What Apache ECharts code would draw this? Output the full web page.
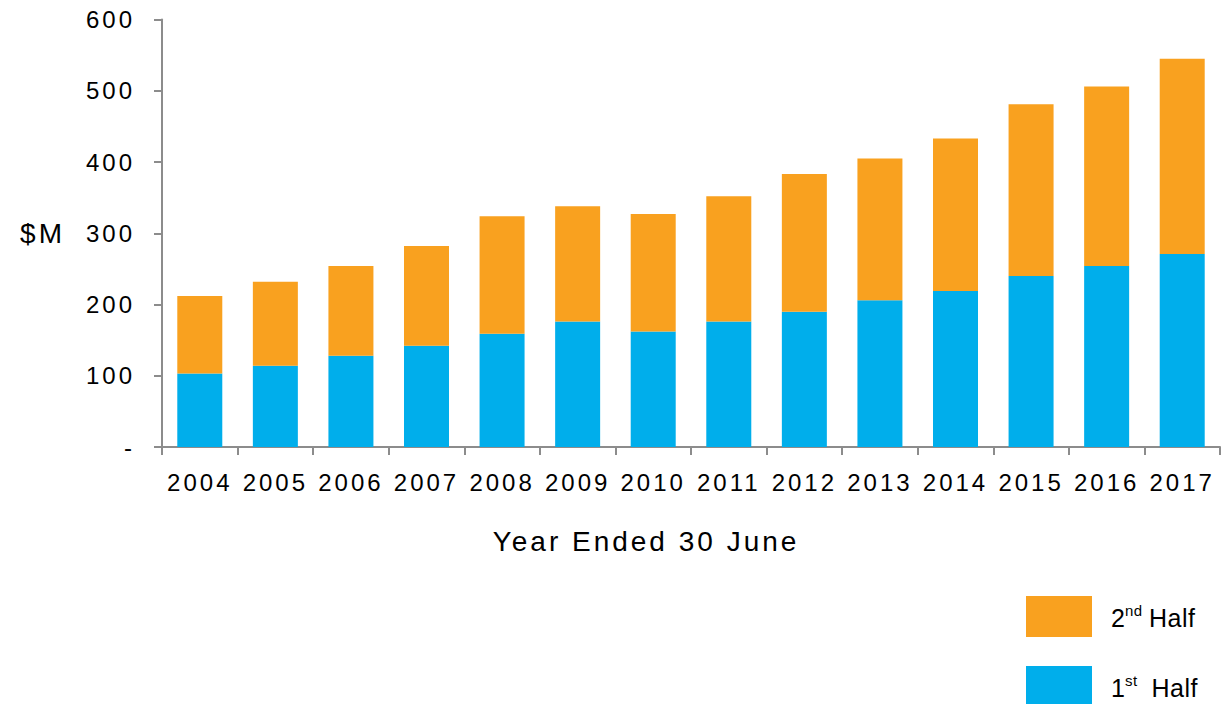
<!DOCTYPE html>
<html>
<head>
<meta charset="utf-8">
<script src="https://cdn.jsdelivr.net/npm/echarts@6/dist/echarts.min.js"></script>
<style>
html,body{margin:0;padding:0;background:#fff}
#c{width:1221px;height:704px}
#c svg text{letter-spacing:3px}
</style>
</head>
<body>
<div id="c"></div>
<script>
const years = ['2004','2005','2006','2007','2008','2009','2010','2011','2012','2013','2014','2015','2016','2017'];
const firstHalf = [103, 114, 128, 142, 159, 176, 162, 176, 190, 206, 219, 240, 254, 271];
const secondHalf = [109, 118, 126, 140, 165, 162, 165, 176, 193, 199, 214, 241, 252, 274];
const yTicks = [0, 100, 200, 300, 400, 500, 600];

const chart = echarts.init(document.getElementById('c'), null, { renderer: 'svg' });
const font = 'Liberation Sans, Arial, sans-serif';
chart.setOption({
  animation: false,
  textStyle: { fontFamily: font },
  grid: { left: 162, right: 1, top: 19.5, bottom: 257, containLabel: false },
  legend: {
    orient: 'vertical',
    left: 1026,
    top: 596,
    height: 120,
    padding: 0,
    itemWidth: 66,
    itemHeight: 41,
    itemGap: 29,
    icon: 'rect',
    data: ['2nd Half', '1st Half'],
    formatter: function (name) {
      if (name === '2nd Half') return '{n|2}{s|nd}{n| Half}';
      return '{n|1}{s|st}{n|  Half}';
    },
    textStyle: {
      padding: [0, 0, 0, 14],
      rich: {
        n: { fontSize: 25, color: '#000', fontFamily: font, verticalAlign: 'bottom', lineHeight: 28 },
        s: { fontSize: 15, color: '#000', fontFamily: font, verticalAlign: 'top', lineHeight: 28, padding: [0, 0, 10, 0] }
      }
    }
  },
  xAxis: {
    type: 'category',
    data: years,
    name: 'Year Ended 30 June',
    nameLocation: 'middle',
    nameGap: 80,
    nameTextStyle: { fontSize: 28, color: '#000', fontFamily: font, padding: [0, 90, 0, 0] },
    axisLine: { lineStyle: { color: '#8c8c8c', width: 2 } },
    axisTick: { show: true, length: 8, lineStyle: { color: '#8c8c8c', width: 2 } },
    axisLabel: { fontSize: 24, color: '#000', margin: 23, fontFamily: font }
  },
  yAxis: {
    type: 'value',
    min: 0,
    max: 600,
    interval: 100,
    name: '$M',
    nameLocation: 'middle',
    nameRotate: 0,
    nameGap: 97,
    nameTextStyle: { fontSize: 28, color: '#000', fontFamily: font },
    axisLine: { show: true, lineStyle: { color: '#8c8c8c', width: 2 } },
    axisTick: { show: true, length: 8, lineStyle: { color: '#8c8c8c', width: 2 } },
    splitLine: { show: false },
    axisLabel: {
      fontSize: 24, color: '#000', margin: 27, fontFamily: font,
      formatter: function (v) { return v === yTicks[0] ? '-' : String(v); }
    }
  },
  series: [
    {
      name: '1st Half', type: 'bar', stack: 'a', data: firstHalf, barWidth: 45,
      itemStyle: { color: '#00AEEB' }
    },
    {
      name: '2nd Half', type: 'bar', stack: 'a', data: secondHalf, barWidth: 45,
      itemStyle: { color: '#F9A11F' }
    }
  ]
});
function tightenLegend() {
  document.querySelectorAll('#c svg text').forEach(function (t) {
    const r = t.getBoundingClientRect();
    if (r.left > 1000 && r.top > 560) t.style.letterSpacing = '0.5px';
  });
}
tightenLegend();
chart.on('finished', tightenLegend);
setTimeout(tightenLegend, 30);
setTimeout(tightenLegend, 200);
</script>
</body>
</html>
